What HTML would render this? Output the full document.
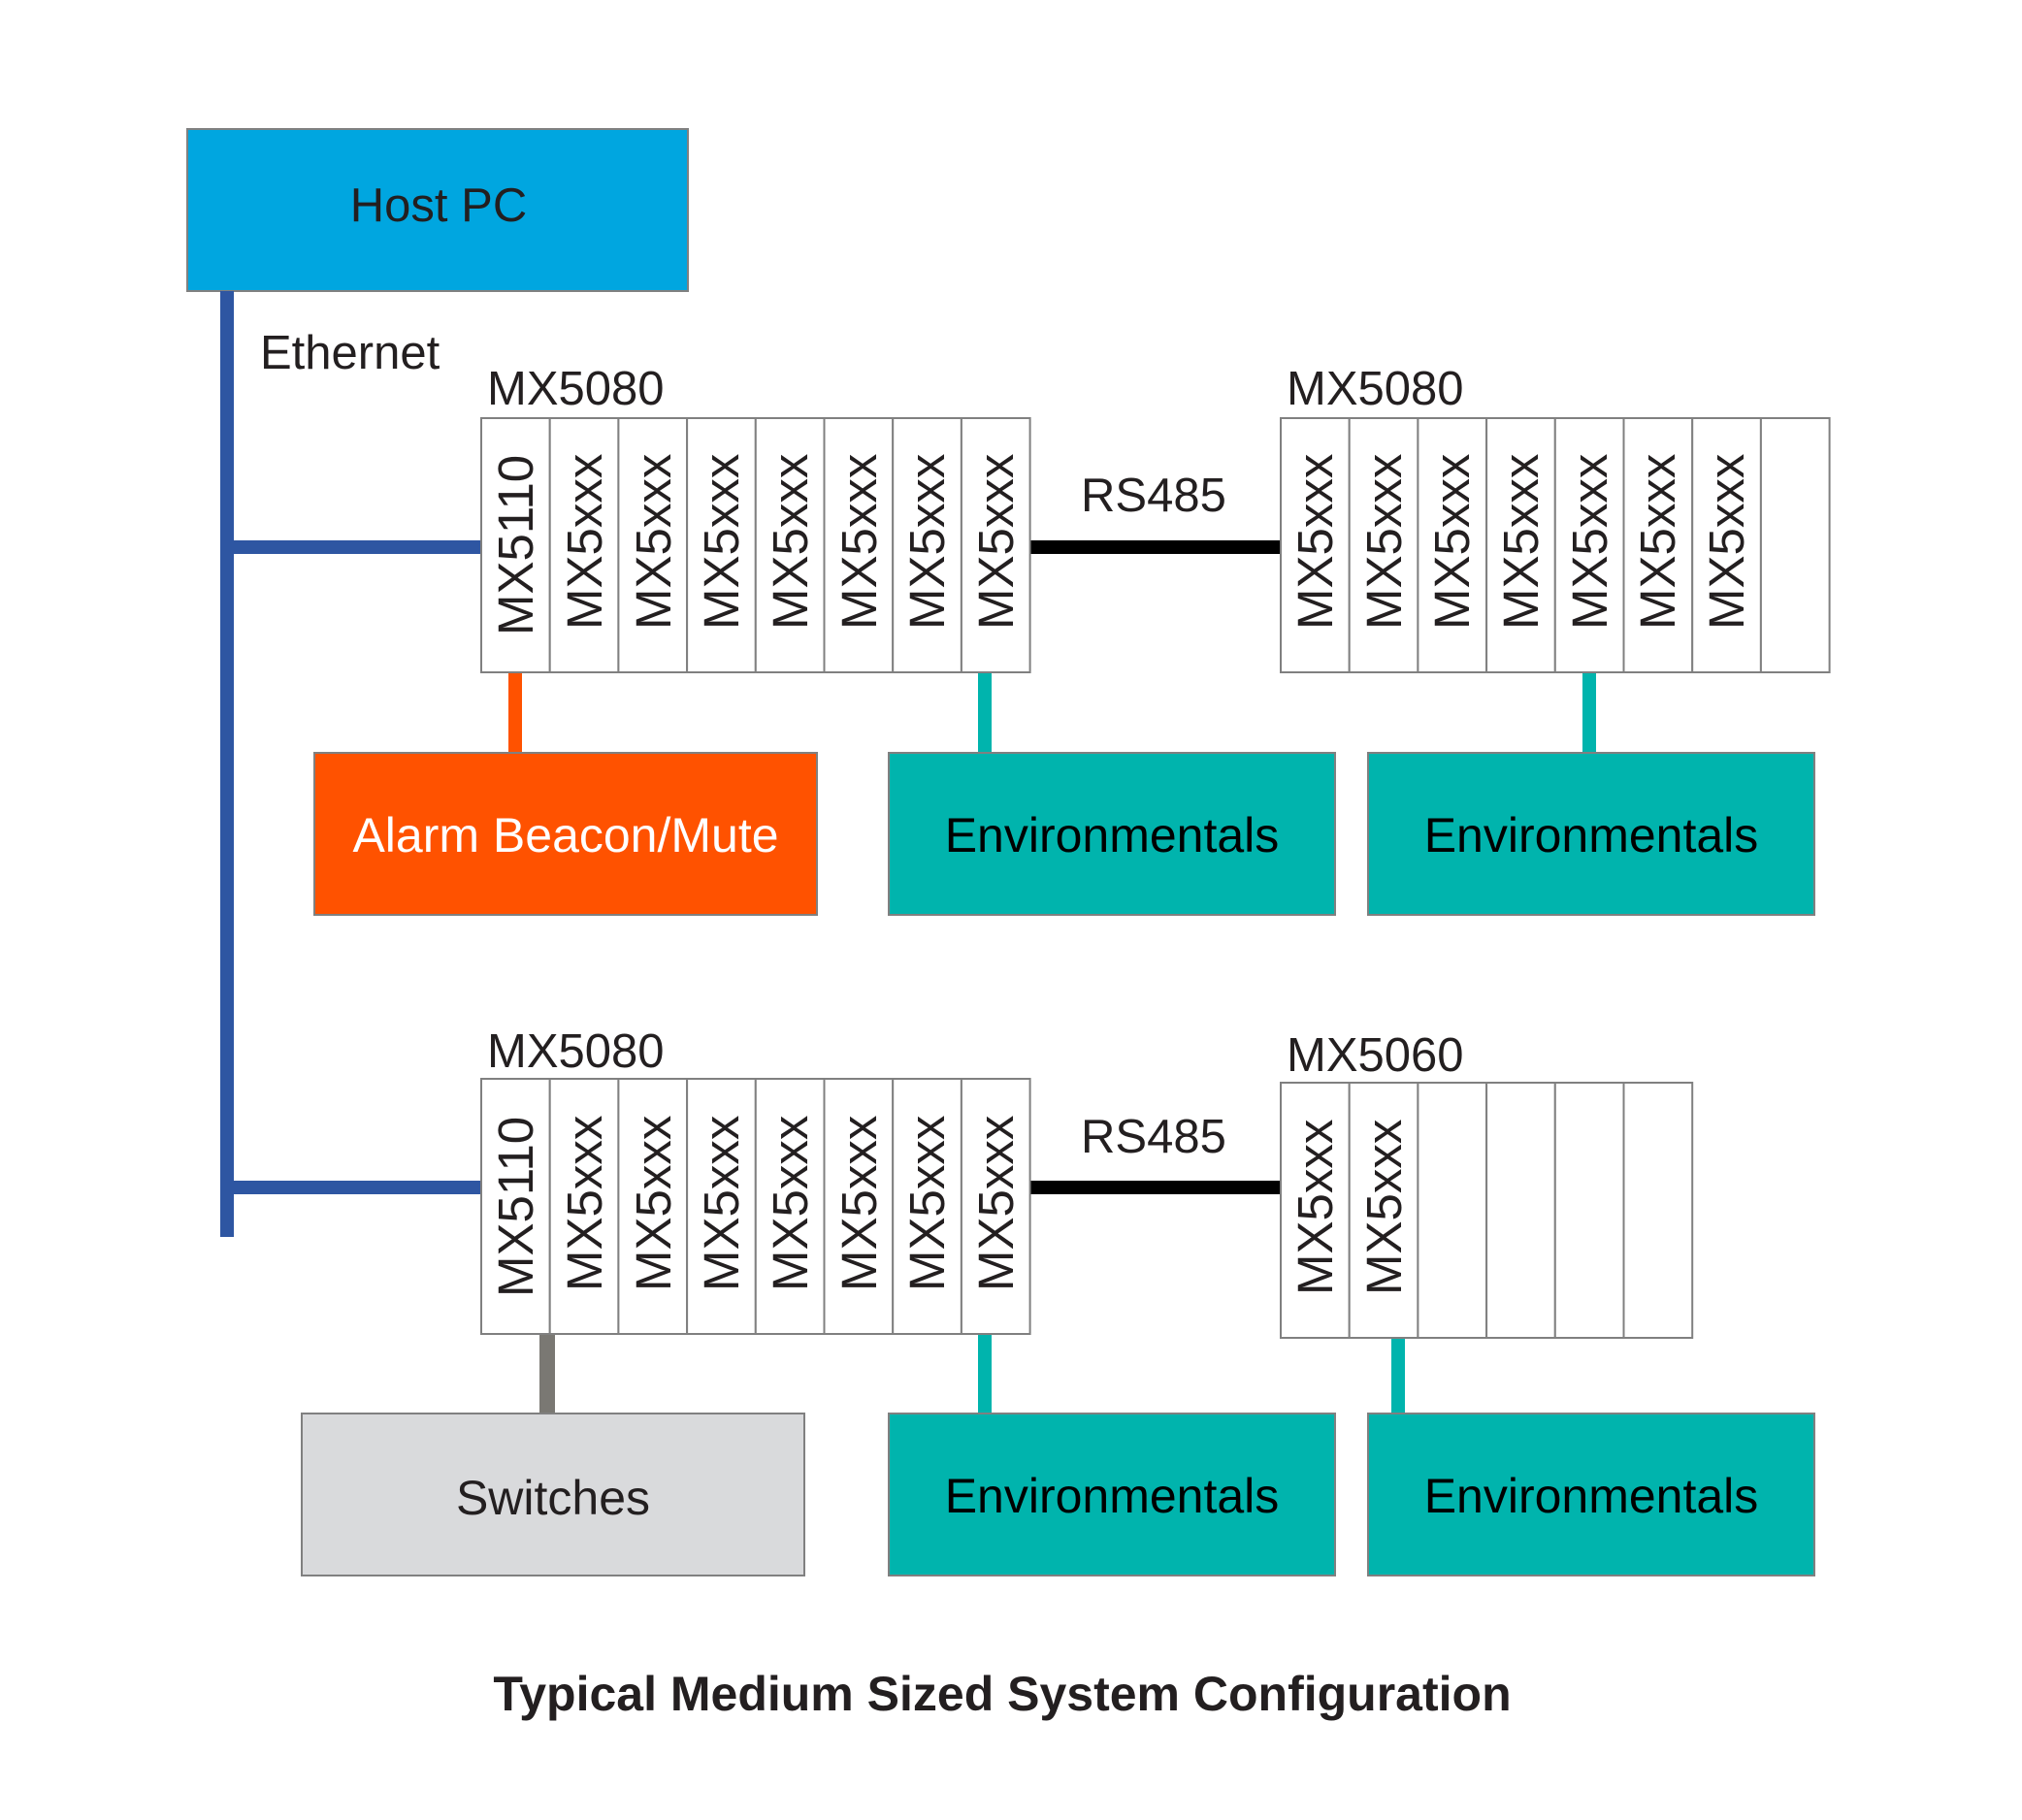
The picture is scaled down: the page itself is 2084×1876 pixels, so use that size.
<!DOCTYPE html>
<html><head><meta charset="utf-8"><style>
html,body{margin:0;padding:0;background:#fff;}
svg{display:block;}
text{font-family:"Liberation Sans",Arial,sans-serif;fill:#231f20;}
</style></head><body>
<svg width="2084" height="1876" viewBox="0 0 2084 1876" xmlns="http://www.w3.org/2000/svg">
<rect x="193" y="133" width="516" height="167" fill="#00a6e0" stroke="#808080" stroke-width="2"/>
<text x="452" y="228" font-size="49" text-anchor="middle">Host PC</text>
<rect x="227" y="300" width="14" height="975" fill="#2e56a2"/>
<rect x="227" y="557" width="269" height="14" fill="#2e56a2"/>
<rect x="227" y="1217" width="269" height="14" fill="#2e56a2"/>
<text x="268" y="380" font-size="49">Ethernet</text>

<rect x="524" y="693" width="14" height="83" fill="#ff5200"/>
<rect x="1008" y="693" width="14" height="83" fill="#00b4ad"/>
<rect x="1631" y="693" width="14" height="83" fill="#00b4ad"/>
<rect x="556" y="1375" width="16" height="82" fill="#7a7873"/>
<rect x="1008" y="1375" width="14" height="82" fill="#00b4ad"/>
<rect x="1434" y="1379" width="14" height="78" fill="#00b4ad"/>
<rect x="1062" y="557" width="258" height="14" fill="#000"/>
<rect x="1062" y="1217" width="258" height="14" fill="#000"/>
<text x="1114" y="527" font-size="49">RS485</text>
<text x="1114" y="1188" font-size="49">RS485</text>

<text x="502" y="417" font-size="49">MX5080</text>
<g fill="#fff" stroke="#808080" stroke-width="2">
<rect x="496" y="431" width="70.7" height="262"/><rect x="566.7" y="431" width="70.7" height="262"/>
<rect x="637.4" y="431" width="70.7" height="262"/><rect x="708.1" y="431" width="70.7" height="262"/>
<rect x="778.8" y="431" width="70.7" height="262"/><rect x="849.5" y="431" width="70.7" height="262"/>
<rect x="920.2" y="431" width="70.7" height="262"/><rect x="990.9" y="431" width="70.7" height="262"/>
</g>
<g font-size="51">
<text transform="translate(549,655) rotate(-90)">MX5110</text>
<text transform="translate(620,649) rotate(-90)">MX5xxx</text>
<text transform="translate(691,649) rotate(-90)">MX5xxx</text>
<text transform="translate(761,649) rotate(-90)">MX5xxx</text>
<text transform="translate(832,649) rotate(-90)">MX5xxx</text>
<text transform="translate(903,649) rotate(-90)">MX5xxx</text>
<text transform="translate(973,649) rotate(-90)">MX5xxx</text>
<text transform="translate(1044,649) rotate(-90)">MX5xxx</text>
</g>

<text x="1326" y="417" font-size="49">MX5080</text>
<g fill="#fff" stroke="#808080" stroke-width="2">
<rect x="1320" y="431" width="70.7" height="262"/><rect x="1390.7" y="431" width="70.7" height="262"/>
<rect x="1461.4" y="431" width="70.7" height="262"/><rect x="1532.1" y="431" width="70.7" height="262"/>
<rect x="1602.8" y="431" width="70.7" height="262"/><rect x="1673.5" y="431" width="70.7" height="262"/>
<rect x="1744.2" y="431" width="70.7" height="262"/><rect x="1814.9" y="431" width="70.7" height="262"/>
</g>
<g font-size="51">
<text transform="translate(1373,649) rotate(-90)">MX5xxx</text>
<text transform="translate(1444,649) rotate(-90)">MX5xxx</text>
<text transform="translate(1514,649) rotate(-90)">MX5xxx</text>
<text transform="translate(1585,649) rotate(-90)">MX5xxx</text>
<text transform="translate(1656,649) rotate(-90)">MX5xxx</text>
<text transform="translate(1726,649) rotate(-90)">MX5xxx</text>
<text transform="translate(1797,649) rotate(-90)">MX5xxx</text>
</g>

<text x="502" y="1100" font-size="49">MX5080</text>
<g fill="#fff" stroke="#808080" stroke-width="2">
<rect x="496" y="1112" width="70.7" height="263"/><rect x="566.7" y="1112" width="70.7" height="263"/>
<rect x="637.4" y="1112" width="70.7" height="263"/><rect x="708.1" y="1112" width="70.7" height="263"/>
<rect x="778.8" y="1112" width="70.7" height="263"/><rect x="849.5" y="1112" width="70.7" height="263"/>
<rect x="920.2" y="1112" width="70.7" height="263"/><rect x="990.9" y="1112" width="70.7" height="263"/>
</g>
<g font-size="51">
<text transform="translate(549,1337) rotate(-90)">MX5110</text>
<text transform="translate(620,1331) rotate(-90)">MX5xxx</text>
<text transform="translate(691,1331) rotate(-90)">MX5xxx</text>
<text transform="translate(761,1331) rotate(-90)">MX5xxx</text>
<text transform="translate(832,1331) rotate(-90)">MX5xxx</text>
<text transform="translate(903,1331) rotate(-90)">MX5xxx</text>
<text transform="translate(973,1331) rotate(-90)">MX5xxx</text>
<text transform="translate(1044,1331) rotate(-90)">MX5xxx</text>
</g>

<text x="1326" y="1104" font-size="49">MX5060</text>
<g fill="#fff" stroke="#808080" stroke-width="2">
<rect x="1320" y="1116" width="70.7" height="263"/><rect x="1390.7" y="1116" width="70.7" height="263"/>
<rect x="1461.4" y="1116" width="70.7" height="263"/><rect x="1532.1" y="1116" width="70.7" height="263"/>
<rect x="1602.8" y="1116" width="70.7" height="263"/><rect x="1673.5" y="1116" width="70.7" height="263"/>
</g>
<g font-size="51">
<text transform="translate(1373,1335) rotate(-90)">MX5xxx</text>
<text transform="translate(1444,1335) rotate(-90)">MX5xxx</text>
</g>

<rect x="324" y="776" width="518" height="167" fill="#ff5200" stroke="#808080" stroke-width="2"/>
<text x="583" y="878" font-size="50" text-anchor="middle" style="fill:#fff">Alarm Beacon/Mute</text>
<rect x="916" y="776" width="460" height="167" fill="#00b4ad" stroke="#808080" stroke-width="2"/>
<text x="1146" y="878" font-size="50" text-anchor="middle" style="fill:#000">Environmentals</text>
<rect x="1410" y="776" width="460" height="167" fill="#00b4ad" stroke="#808080" stroke-width="2"/>
<text x="1640" y="878" font-size="50" text-anchor="middle" style="fill:#000">Environmentals</text>

<rect x="311" y="1457" width="518" height="167" fill="#d9dadc" stroke="#808080" stroke-width="2"/>
<text x="570" y="1561" font-size="50" text-anchor="middle">Switches</text>
<rect x="916" y="1457" width="460" height="167" fill="#00b4ad" stroke="#808080" stroke-width="2"/>
<text x="1146" y="1559" font-size="50" text-anchor="middle" style="fill:#000">Environmentals</text>
<rect x="1410" y="1457" width="460" height="167" fill="#00b4ad" stroke="#808080" stroke-width="2"/>
<text x="1640" y="1559" font-size="50" text-anchor="middle" style="fill:#000">Environmentals</text>

<text x="1033" y="1763" font-size="50" font-weight="bold" text-anchor="middle">Typical Medium Sized System Configuration</text>
</svg>
</body></html>
